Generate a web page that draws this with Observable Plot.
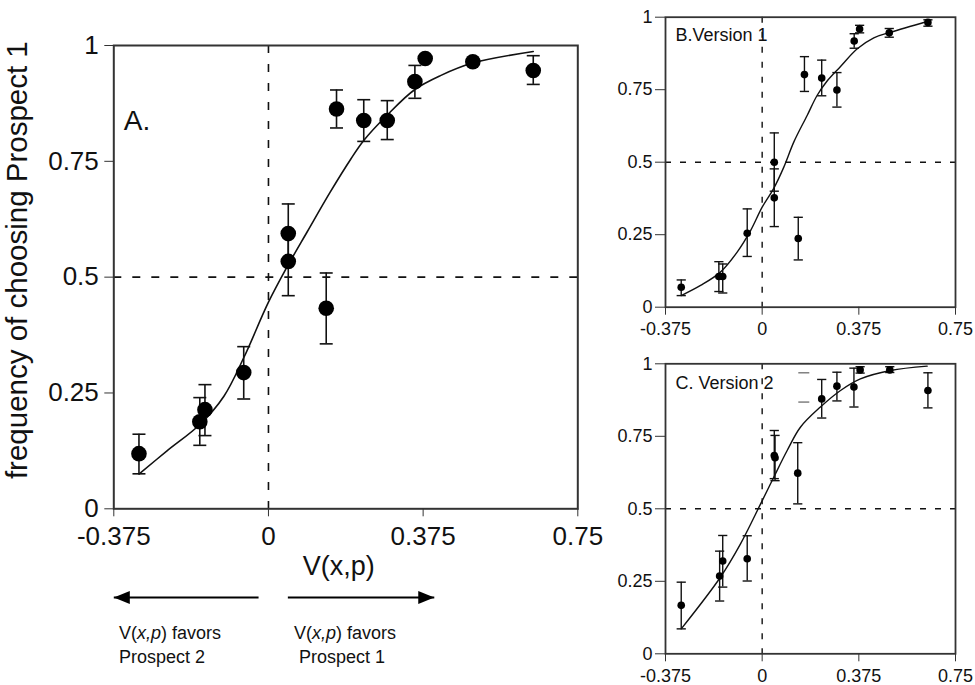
<!DOCTYPE html>
<html><head><meta charset="utf-8">
<script src="https://cdn.jsdelivr.net/npm/d3@7"></script>
<script src="https://cdn.jsdelivr.net/npm/@observablehq/plot@0.6"></script>
<style>
body{margin:0;background:#fff;}
#root{position:relative;width:975px;height:685px;overflow:hidden;font-family:"Liberation Sans",Arial,sans-serif;background:#fff;}
.panel{position:absolute;}
.note{position:absolute;font-size:18px;line-height:24px;color:#111;white-space:pre;font-family:"Liberation Sans",Arial,sans-serif;}
</style></head>
<body><div id="root"></div>
<script>
// ---------- tick labels ----------
const xTicks = [-0.375, 0, 0.375, 0.75];
const yTicks = [0, 0.25, 0.5, 0.75, 1];

// ---------- Panel A (all data) ----------
const aX  = [-0.314, -0.1665, -0.154, -0.060, 0.048, 0.048, 0.140, 0.165, 0.231, 0.288, 0.355, 0.380, 0.4955, 0.642];
const aY  = [0.119, 0.188, 0.214, 0.294, 0.534, 0.594, 0.433, 0.863, 0.838, 0.838, 0.922, 0.972, 0.965, 0.946];
const aLo = [0.0755, 0.137, 0.158, 0.237, 0.460, 0.530, 0.356, 0.822, 0.793, 0.797, 0.886, null, null, 0.916];
const aHi = [0.161, 0.240, 0.268, 0.350, 0.600, 0.658, 0.509, 0.904, 0.883, 0.881, 0.957, null, null, 0.978];
const aCurveX = [-0.314, -0.246, -0.165, -0.108, -0.060, 0.0, 0.045, 0.094, 0.150, 0.199, 0.231, 0.288, 0.355, 0.417, 0.495, 0.642];
const aCurveY = [0.075, 0.125, 0.183, 0.243, 0.326, 0.446, 0.522, 0.598, 0.684, 0.754, 0.795, 0.850, 0.905, 0.935, 0.962, 0.987];

// ---------- Panel B (Version 1) ----------
const bX  = [-0.314, -0.168, -0.153, -0.058, 0.047, 0.047, 0.140, 0.164, 0.231, 0.290, 0.357, 0.378, 0.493, 0.643];
const bY  = [0.069, 0.106, 0.106, 0.255, 0.500, 0.377, 0.237, 0.802, 0.790, 0.749, 0.918, 0.959, 0.946, 0.982];
const bLo = [0.040, 0.054, 0.049, 0.175, 0.400, 0.278, 0.163, 0.744, 0.729, 0.690, 0.893, 0.946, 0.931, 0.969];
const bHi = [0.094, 0.157, 0.149, 0.339, 0.601, 0.477, 0.310, 0.864, 0.852, 0.809, 0.943, 0.972, 0.961, 0.991];
const bCurveX = [-0.314, -0.239, -0.162, -0.097, -0.045, 0.0, 0.045, 0.084, 0.123, 0.175, 0.213, 0.252, 0.304, 0.369, 0.433, 0.498, 0.643];
const bCurveY = [0.040, 0.075, 0.121, 0.190, 0.264, 0.345, 0.410, 0.483, 0.570, 0.662, 0.730, 0.780, 0.830, 0.891, 0.929, 0.948, 0.986];

// ---------- Panel C (Version 2) ----------
const cX  = [-0.314, -0.165, -0.153, -0.058, 0.047, 0.050, 0.138, 0.231, 0.290, 0.356, 0.380, 0.495, 0.643];
const cY  = [0.167, 0.268, 0.320, 0.328, 0.684, 0.676, 0.623, 0.879, 0.923, 0.920, 0.979, 0.979, 0.908];
const cLo = [0.086, 0.182, 0.230, 0.251, 0.604, 0.597, 0.517, 0.813, 0.872, 0.851, 0.968, 0.970, 0.848];
const cHi = [0.247, 0.354, 0.408, 0.407, 0.770, 0.753, 0.728, 0.946, 0.971, 0.985, 0.990, 0.990, 0.969];
const cCurveX = [-0.314, -0.162, -0.084, -0.006, 0.045, 0.097, 0.149, 0.226, 0.304, 0.381, 0.498, 0.640];
const cCurveY = [0.086, 0.264, 0.379, 0.517, 0.609, 0.701, 0.782, 0.851, 0.908, 0.948, 0.977, 0.992];
const cStrayCapX = [0.1615, 0.1615];
const cStrayCapY = [0.969, 0.868];

// ---------- helpers ----------
const capSymbol = {draw(ctx, size){const r = Math.sqrt(size/Math.PI); ctx.moveTo(-r,0); ctx.lineTo(r,0);}};
const headSymbol = {draw(ctx, size){const r = Math.sqrt(size/Math.PI); ctx.moveTo(0,0); ctx.lineTo(-2*r,-0.8*r); ctx.lineTo(-2*r,0.8*r); ctx.closePath();}};
const FONT = '"Liberation Sans", Arial, sans-serif';
const fmt = d => String(d);

function rows(X, Y, Lo, Hi){ return X.map((x,i)=>({x, y:Y[i], lo:Lo?Lo[i]:null, hi:Hi?Hi[i]:null})); }
function curve(X, Y){ return X.map((x,i)=>({x, y:Y[i]})); }

function panel(o){
  const pts = rows(o.X, o.Y, o.Lo, o.Hi);
  const err = pts.filter(d => d.lo != null);
  return Plot.plot({
    width: o.width, height: o.height,
    marginLeft: o.ml, marginRight: o.mr, marginTop: o.mt, marginBottom: o.mb,
    x: {domain: [-0.375, 0.75], axis: null},
    y: {domain: [0, 1], axis: null},
    style: {fontFamily: FONT, fontSize: o.fs + "px", background: "transparent", color: "#111", overflow: "visible"},
    marks: [
      Plot.ruleX([0], {stroke: "#111", strokeWidth: o.sw, strokeDasharray: o.dash}),
      Plot.ruleY([0.5], {stroke: "#111", strokeWidth: o.sw, strokeDasharray: o.dash}),
      Plot.ruleX(err, {x: "x", y1: "lo", y2: "hi", stroke: "#111", strokeWidth: o.sw}),
      Plot.dot(err, {x: "x", y: "lo", symbol: capSymbol, r: o.capR, stroke: "#111", fill: "none", strokeWidth: o.sw}),
      Plot.dot(err, {x: "x", y: "hi", symbol: capSymbol, r: o.capR, stroke: "#111", fill: "none", strokeWidth: o.sw}),
      ...(o.extra || []),
      Plot.line(curve(o.CX, o.CY), {x: "x", y: "y", curve: "catmull-rom", stroke: "#111", strokeWidth: o.sw}),
      Plot.dot(pts, {x: "x", y: "y", r: o.r, fill: "#000", stroke: "none"}),
      Plot.frame({stroke: "#333", strokeWidth: o.fw}),
      Plot.axisX({ticks: xTicks, tickFormat: fmt, tickSize: o.tsx, tickPadding: o.tpx, label: null, anchor: "bottom", stroke: "#333"}),
      Plot.axisY({ticks: yTicks, tickFormat: fmt, tickSize: o.tsy, tickPadding: o.tpy, label: null, anchor: "left", stroke: "#333"}),
      ...(o.texts || [])
    ]
  });
}

function place(node, left, top){
  const d = document.createElement("div");
  d.className = "panel";
  d.style.left = left + "px"; d.style.top = top + "px";
  d.appendChild(node);
  document.getElementById("root").appendChild(d);
}

// ---------- Panel A ----------
const plotA = panel({
  X: aX, Y: aY, Lo: aLo, Hi: aHi, CX: aCurveX, CY: aCurveY,
  width: 620, height: 600, ml: 113.3, mr: 42.7, mt: 45, mb: 91.7,
  fs: 26, r: 7.8, capR: 6.5, sw: 1.6, fw: 2, dash: "8,11",
  tsx: 8, tpx: 10, tsy: 9, tpy: 6,
  texts: [
    Plot.text(["A."], {frameAnchor: "top-left", textAnchor: "start", lineAnchor: "middle", dx: 10, dy: 76, fontSize: 28, fill: "#111"}),
    Plot.text(["V(x,p)"], {frameAnchor: "bottom", dx: -7, dy: 66, fontSize: 27, fill: "#111"}),
    Plot.text(["frequency of choosing Prospect 1"], {frameAnchor: "left", textAnchor: "middle", lineAnchor: "middle", rotate: -90, dx: -96, dy: -17, fontSize: 29.5, fill: "#111"})
  ]
});
place(plotA, 0, 0);

// ---------- Arrows under panel A ----------
const arrowStart = [-0.024, 0.047];
const arrowEnd = [-0.375, 0.402];
const arrows = arrowStart.map((s,i)=>({x1: s, x2: arrowEnd[i], dir: arrowEnd[i] < s ? 180 : 0}));
const plotArrows = Plot.plot({
  width: 620, height: 30, marginLeft: 113.3, marginRight: 42.7, marginTop: 0, marginBottom: 0,
  x: {domain: [-0.375, 0.75], axis: null},
  y: {domain: [-1, 1], axis: null},
  style: {background: "transparent", overflow: "visible"},
  marks: [
    Plot.link(arrows, {x1: "x1", x2: "x2", y1: () => 0, y2: () => 0, stroke: "#000", strokeWidth: 2}),
    Plot.dot(arrows.filter(d=>d.dir===180), {x: "x2", y: () => 0, symbol: headSymbol, r: 8, rotate: 180, fill: "#000", stroke: "none"}),
    Plot.dot(arrows.filter(d=>d.dir===0), {x: "x2", y: () => 0, symbol: headSymbol, r: 8, rotate: 0, fill: "#000", stroke: "none"})
  ]
});
place(plotArrows, 0, 581.7);

// ---------- Notes ----------
function note(html, left, top){
  const d = document.createElement("div");
  d.className = "note"; d.innerHTML = html;
  d.style.left = left + "px"; d.style.top = top + "px";
  document.getElementById("root").appendChild(d);
}
note('V(<i>x,p</i>) favors<br>Prospect 2', 119, 621);
note('V(<i>x,p</i>) favors<br> Prospect 1', 294, 621);

// ---------- Panel B ----------
const plotB = panel({
  X: bX, Y: bY, Lo: bLo, Hi: bHi, CX: bCurveX, CY: bCurveY,
  width: 375, height: 335, ml: 65, mr: 20, mt: 16.7, mb: 28.3,
  fs: 18, r: 3.8, capR: 4.6, sw: 1.4, fw: 1.8, dash: "6,9",
  tsx: 8, tpx: 7.5, tsy: 10, tpy: 3,
  texts: [
    Plot.text(["B.Version 1"], {frameAnchor: "top-left", textAnchor: "start", lineAnchor: "middle", dx: 10, dy: 18, fontSize: 18, fill: "#111"})
  ]
});
place(plotB, 600, 0);

// ---------- Panel C ----------
const strayCaps = cStrayCapX.map((x,i)=>({x, y: cStrayCapY[i]}));
const plotC = panel({
  X: cX, Y: cY, Lo: cLo, Hi: cHi, CX: cCurveX, CY: cCurveY,
  width: 375, height: 350, ml: 65, mr: 20, mt: 28.3, mb: 31.7,
  fs: 18, r: 3.8, capR: 4.6, sw: 1.4, fw: 1.8, dash: "6,9",
  tsx: 8, tpx: 7.5, tsy: 10, tpy: 3,
  extra: [Plot.dot(strayCaps, {x: "x", y: "y", symbol: capSymbol, r: 5.5, stroke: "#777", fill: "none", strokeWidth: 1.4})],
  texts: [
    Plot.text(["C. Version 2"], {frameAnchor: "top-left", textAnchor: "start", lineAnchor: "middle", dx: 10, dy: 19.6, fontSize: 18, fill: "#111"})
  ]
});
place(plotC, 600, 335);
</script>
</body></html>
